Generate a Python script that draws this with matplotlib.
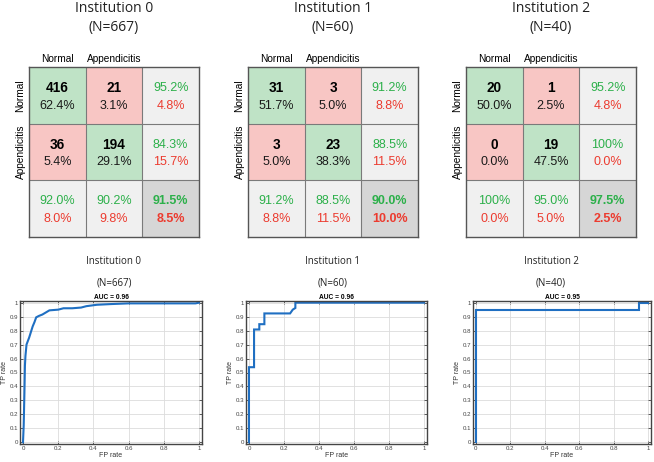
import numpy as np
import matplotlib
matplotlib.use("Agg")
import matplotlib.pyplot as plt
from matplotlib.colors import to_rgb

plt.rcParams['font.family'] = ['Liberation Sans', 'DejaVu Sans']

# ---- data ----
institutions = ["Institution 0", "Institution 1", "Institution 2"]
n_cases = [667, 60, 40]
class_names = ["Normal", "Appendicitis"]

# confusion counts [[TN, FP], [FN, TP]] (rows = true class, cols = predicted)
cm_inst0 = [[416, 21], [36, 194]]
cm_inst1 = [[31, 3], [3, 23]]
cm_inst2 = [[20, 1], [0, 19]]
conf_mats = [cm_inst0, cm_inst1, cm_inst2]

auc_values = [0.96, 0.96, 0.95]

# ROC curves
fpr_inst0 = [0, 0.004, 0.008, 0.011, 0.014, 0.02, 0.026, 0.035, 0.045, 0.055, 0.065,
             0.075, 0.09, 0.11, 0.13, 0.15, 0.2, 0.23, 0.28, 0.33, 0.36, 0.42, 0.5,
             0.6, 0.8, 0.98, 1.0]
tpr_inst0 = [0, 0.12, 0.35, 0.55, 0.62, 0.7, 0.72, 0.75, 0.79, 0.83, 0.86,
             0.895, 0.905, 0.915, 0.93, 0.945, 0.95, 0.96, 0.96, 0.965, 0.975, 0.985, 0.99,
             0.995, 0.995, 0.995, 1.0]
fpr_inst1 = [0, 0, 0.029, 0.029, 0.059, 0.059, 0.088, 0.088, 0.235, 0.25, 0.265, 0.265, 1.0]
tpr_inst1 = [0, 0.538, 0.538, 0.808, 0.808, 0.846, 0.846, 0.923, 0.923, 0.95, 0.962, 1.0, 1.0]
fpr_inst2 = [0, 0, 0.95, 0.95, 1.0]
tpr_inst2 = [0, 0.95, 0.95, 1.0, 1.0]
roc_fpr = [fpr_inst0, fpr_inst1, fpr_inst2]
roc_tpr = [tpr_inst0, tpr_inst1, tpr_inst2]

# ---- layout (pixels) ----
W, H = 654, 462
cm_boxes = [(29, 67, 199, 237), (248, 67, 418, 237), (466, 67, 636, 237)]
roc_boxes = [(20, 301, 202, 444), (246, 301, 427, 444), (473, 301, 651, 444)]

GREEN_CELL = "#bfe3c6"
RED_CELL = "#f8c6c4"
LIGHT_CELL = "#f0f0f0"
DARK_CELL = "#d6d6d6"
GREEN_TXT = "#2cb04a"
RED_TXT = "#ec3b2f"
TXT_SIZE = 9


def px_axes(fig, box):
    x0, y0, x1, y1 = box
    return fig.add_axes([x0 / W, 1 - y1 / H, (x1 - x0) / W, (y1 - y0) / H])


def fmt_pct(v):
    if abs(v - 100) < 1e-9:
        return "100%"
    return f"{v:.1f}%"


fig = plt.figure(figsize=(W / 100, H / 100), dpi=100)

for k, cm in enumerate(conf_mats):
    cm = np.array(cm)
    total = cm.sum()
    ax = px_axes(fig, cm_boxes[k])

    colors = np.zeros((3, 3, 3))
    for r in range(3):
        for c in range(3):
            if r < 2 and c < 2:
                colors[r, c] = to_rgb(GREEN_CELL if r == c else RED_CELL)
            elif r == 2 and c == 2:
                colors[r, c] = to_rgb(DARK_CELL)
            else:
                colors[r, c] = to_rgb(LIGHT_CELL)
    ax.imshow(colors, extent=[0, 3, 3, 0], aspect='auto', interpolation='nearest')
    for v in [1, 2]:
        ax.axhline(v, color="#7a7a7a", lw=0.8)
        ax.axvline(v, color="#7a7a7a", lw=0.8)
    for s in ax.spines.values():
        s.set_color("#555555")
        s.set_linewidth(1.0)

    # main cells
    for r in range(2):
        for c in range(2):
            ax.text(c + 0.5, r + 0.37, f"{cm[r, c]}", ha='center', va='center',
                    fontsize=TXT_SIZE + 0.8, fontweight='bold', color='black')
            ax.text(c + 0.5, r + 0.68, fmt_pct(100 * cm[r, c] / total), ha='center',
                    va='center', fontsize=TXT_SIZE, color='#1a1a1a')
    # row summaries
    for r in range(2):
        ok = 100 * cm[r, r] / cm[r].sum()
        ax.text(2.5, r + 0.37, fmt_pct(ok), ha='center', va='center', fontsize=TXT_SIZE, color=GREEN_TXT)
        ax.text(2.5, r + 0.68, fmt_pct(100 - ok), ha='center', va='center', fontsize=TXT_SIZE, color=RED_TXT)
    # column summaries
    for c in range(2):
        ok = 100 * cm[c, c] / cm[:, c].sum()
        ax.text(c + 0.5, 2.37, fmt_pct(ok), ha='center', va='center', fontsize=TXT_SIZE, color=GREEN_TXT)
        ax.text(c + 0.5, 2.68, fmt_pct(100 - ok), ha='center', va='center', fontsize=TXT_SIZE, color=RED_TXT)
    acc = 100 * np.trace(cm) / total
    ax.text(2.5, 2.37, fmt_pct(acc), ha='center', va='center', fontsize=TXT_SIZE,
            fontweight='bold', color=GREEN_TXT)
    ax.text(2.5, 2.68, fmt_pct(100 - acc), ha='center', va='center', fontsize=TXT_SIZE,
            fontweight='bold', color=RED_TXT)

    ax.set_xlim(0, 3)
    ax.set_ylim(3, 0)
    ax.xaxis.tick_top()
    ax.set_xticks([0.5, 1.5])
    ax.set_xticklabels(class_names, fontsize=7.3)
    ax.set_yticks([0.5, 1.5])
    ax.set_yticklabels(class_names, fontsize=7.3, rotation=90, va='center')
    ax.tick_params(length=0, pad=2.5)

    cx = (cm_boxes[k][0] + cm_boxes[k][2]) / 2
    fig.text(cx / W, 1 - 8 / H, institutions[k], ha='center', va='center',
             fontsize=10, family=['Open Sans', 'DejaVu Sans'], color='#222222')
    fig.text(cx / W, 1 - 28 / H, f"(N={n_cases[k]})", ha='center', va='center',
             fontsize=10, family=['Open Sans', 'DejaVu Sans'], color='#222222')

# ---- ROC curves ----
for k in range(3):
    ax = px_axes(fig, roc_boxes[k])
    ax.plot(roc_fpr[k], roc_tpr[k], color="#1f6fc2", lw=1.5, solid_joinstyle='miter')
    ax.set_xlim(-0.017, 1.017)
    ax.set_ylim(-0.012, 1.012)
    ax.set_xticks(np.arange(0, 1.01, 0.2))
    ax.set_xticklabels(["0", "0.2", "0.4", "0.6", "0.8", "1"])
    ax.set_yticks(np.arange(0, 1.01, 0.1))
    ax.set_yticklabels(["0", "0.1", "0.2", "0.3", "0.4", "0.5", "0.6", "0.7", "0.8", "0.9", "1"])
    ax.grid(True, color="#dcdcdc", lw=0.6)
    ax.set_axisbelow(True)
    ax.tick_params(direction='in', length=2, width=0.6, labelsize=4.4, pad=1.5,
                   top=True, right=True, colors="#444444")
    for s in ax.spines.values():
        s.set_color("#444444")
        s.set_linewidth(1.0)
    ax.set_title(f"AUC = {auc_values[k]:.2f}", fontsize=4.8, fontweight='bold', pad=1.5)
    ax.set_xlabel("FP rate", fontsize=5, labelpad=0.5, color="#333333")
    ax.set_ylabel("TP rate", fontsize=5, labelpad=1, color="#333333")

    cx = (cm_boxes[k][0] + cm_boxes[k][2]) / 2
    fig.text(cx / W, 1 - 262 / H, institutions[k], ha='center', va='center',
             fontsize=7, family=['Open Sans', 'DejaVu Sans'], color='#222222')
    fig.text(cx / W, 1 - 283 / H, f"(N={n_cases[k]})", ha='center', va='center',
             fontsize=7, family=['Open Sans', 'DejaVu Sans'], color='#222222')

fig.savefig("out.png", dpi=100)
